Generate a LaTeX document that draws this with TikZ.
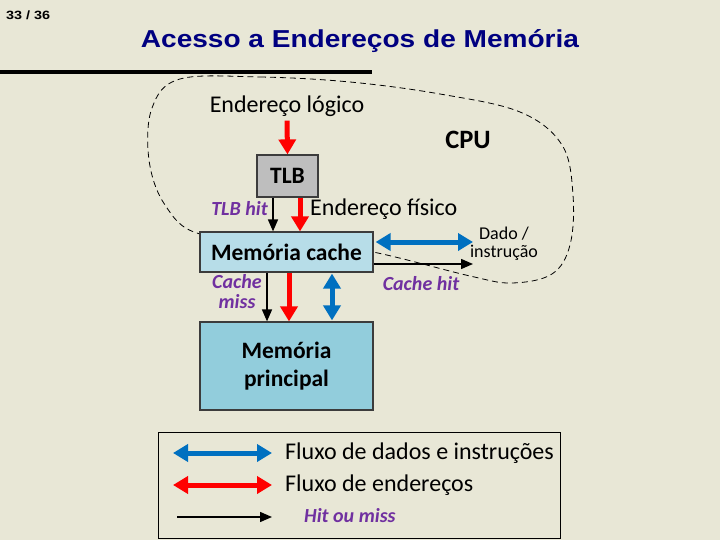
\documentclass[tikz,border=0pt]{standalone}
\usepackage{fontspec}
\setmainfont{Carlito}
\newfontfamily\arialfont{Liberation Sans}
\usetikzlibrary{arrows.meta,calc}
\definecolor{bgc}{RGB}{232,231,214}
\definecolor{navy}{RGB}{0,0,128}
\definecolor{tlbgray}{RGB}{190,190,190}
\definecolor{cachebl}{RGB}{183,221,232}
\definecolor{mainbl}{RGB}{146,205,220}
\definecolor{flowblue}{RGB}{0,112,192}
\definecolor{flowred}{RGB}{255,0,0}
\definecolor{hitpurple}{RGB}{112,48,160}
\definecolor{boxborder}{RGB}{60,60,60}
\tikzset{
  membox/.style={draw=boxborder, line width=1.2pt, inner sep=0pt, font=\fontsize{23.5}{28}\selectfont\bfseries, align=center},
  lbl/.style={inner sep=0pt, font=\fontsize{24}{28}\selectfont},
  hitlbl/.style={inner sep=0pt, text=hitpurple, font=\fontsize{20}{20}\selectfont\bfseries\itshape, align=center},
  redarr/.style={draw=flowred, line width=5pt, -{Triangle[length=15pt,width=17pt]}},
  bluedbl/.style={draw=flowblue, line width=5pt, {Triangle[length=15pt,width=17pt]}-{Triangle[length=15pt,width=17pt]}},
  blackarr/.style={draw=black, line width=1.5pt, -{Triangle[length=12pt,width=10pt]}},
}
\begin{document}
\begin{tikzpicture}[x=1pt,y=-1pt]
\fill[bgc] (0,0) rectangle (720,540);
\useasboundingbox (0,0) rectangle (720,540);
% header
\node[inner sep=0pt, anchor=base west, font=\arialfont\fontsize{12}{14}\selectfont\bfseries] (pg) at (6,20) {\scalebox{1.2}[1]{33 / 36}};
\node[inner sep=0pt, anchor=base, text=navy, font=\arialfont\fontsize{24.5}{28}\selectfont\bfseries] (title) at (360,47.5) {\scalebox{1.145}[1]{Acesso a Endereços de Memória}};
\coordinate (barL) at (0,72);
\coordinate (barR) at (372,72);
\draw[line width=4pt] (barL) -- (barR);
% CPU dashed outline
\draw[line width=0.8pt, dash pattern=on 6pt off 4pt] plot[smooth cycle, tension=0.6] coordinates {
 (180,79) (260,77) (350,82) (440,94) (520,112) (562,145) (573,195) (570,245) (552,274) (512,283) (470,276) (373,252) (290,240) (200,234) (165,205) (149,160) (152,108)};
% nodes
\node[lbl] (el) at (287,106) {Endereço lógico};
\node[inner sep=0pt, font=\fontsize{26.5}{30}\selectfont\bfseries] (cpu) at (468,140) {CPU};
\node[membox, fill=tlbgray, minimum width=61pt, minimum height=42pt] (tlb) at (287.5,176) {TLB};
\node[membox, fill=cachebl, minimum width=173pt, minimum height=40pt] (cache) at (286.5,252) {Memória cache};
\node[membox, fill=mainbl, minimum width=173pt, minimum height=88pt] (main) at (286.5,366) {Memória\\principal};
\node[hitlbl, anchor=east] (tlbhit) at (268,209) {TLB hit};
\node[lbl, anchor=west] (ef) at (310,209) {Endereço físico};
\node[inner sep=0pt, align=center, font=\fontsize{18}{17.5}\selectfont] (dado) at (504,244) {Dado /\\instrução};
\node[hitlbl] (chit) at (421,284) {Cache hit};
\node[hitlbl] (cmiss) at (237,292) {Cache\\miss};
% arrows in CPU
\draw[redarr] (el.south) ++(0,4) -- (tlb.north);
\draw[blackarr] ([xshift=-14.5pt]tlb.south) -- ([xshift=-14.5pt]tlb.south |- cache.north);
\draw[redarr] ([xshift=12.5pt]tlb.south) -- ([xshift=12.5pt]tlb.south |- cache.north);
\coordinate (dadoB) at (473,242);
\coordinate (dadoK) at (473,264);
\draw[bluedbl] ([xshift=2pt,yshift=10pt]cache.east) -- (dadoB);
\draw[blackarr] ([yshift=-12pt]cache.east) -- (dadoK);
% arrows cache -> main
\draw[blackarr] ([xshift=-19.5pt]cache.south) -- ([xshift=-19.5pt]cache.south |- main.north);
\draw[redarr] ([xshift=2.5pt]cache.south) -- ([xshift=2.5pt]cache.south |- main.north);
\draw[bluedbl] ([xshift=45.5pt,yshift=-1pt]cache.south) -- ([xshift=45.5pt,yshift=1pt]cache.south |- main.north);
% legend
\node[draw=black, line width=1pt, minimum width=402pt, minimum height=106pt, inner sep=0pt] (leg) at (359,485) {};
\coordinate (l1a) at (173,453); \coordinate (l1b) at (272,453);
\coordinate (l2a) at (173,485); \coordinate (l2b) at (272,485);
\coordinate (l3a) at (177,517); \coordinate (l3b) at (272,517);
\draw[bluedbl] (l1a) -- (l1b);
\draw[redarr, {Triangle[length=15pt,width=17pt]}-{Triangle[length=15pt,width=17pt]}] (l2a) -- (l2b);
\draw[blackarr] (l3a) -- (l3b);
\node[lbl, anchor=west] (t1) at (285,453) {Fluxo de dados e instruções};
\node[lbl, anchor=west] (t2) at (285,485) {Fluxo de endereços};
\node[hitlbl, anchor=west] (t3) at (304,516) {Hit ou miss};
\end{tikzpicture}
\end{document}
